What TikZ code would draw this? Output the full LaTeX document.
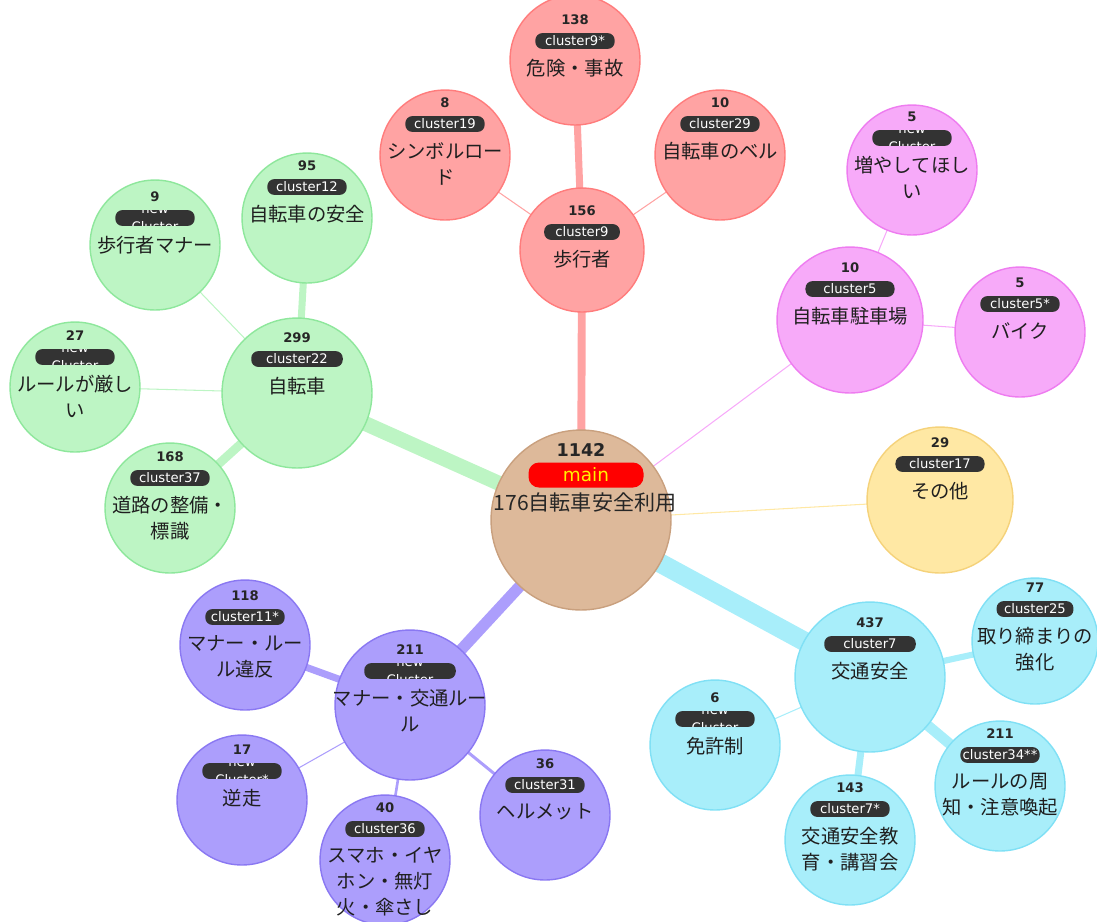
\documentclass[tikz,border=0pt]{standalone}
\usepackage{fontspec}
\setmainfont{DejaVu Sans}
\newfontfamily\jp{Noto Sans CJK JP}
\usetikzlibrary{calc,backgrounds}

\definecolor{redfill}{HTML}{FFA3A3}
\definecolor{redline}{HTML}{FF7C7C}
\definecolor{pinkfill}{HTML}{F7AAF9}
\definecolor{pinkline}{HTML}{EE7CF0}
\definecolor{yellowfill}{HTML}{FFE8A4}
\definecolor{yellowline}{HTML}{F5D27A}
\definecolor{cyanfill}{HTML}{A8EEFA}
\definecolor{cyanline}{HTML}{80E0F5}
\definecolor{purplefill}{HTML}{AC9EFC}
\definecolor{purpleline}{HTML}{8A78F2}
\definecolor{greenfill}{HTML}{BDF5C4}
\definecolor{greenline}{HTML}{8EE79C}
\definecolor{mainfill}{HTML}{DDB99A}
\definecolor{mainline}{HTML}{C9A07E}
\definecolor{tagfill}{HTML}{333333}

\tikzset{
  bub/.style={circle, inner sep=0pt, line width=0.8pt},
  redc/.style={fill=redfill, draw=redline},
  pinkc/.style={fill=pinkfill, draw=pinkline},
  yellowc/.style={fill=yellowfill, draw=yellowline},
  cyanc/.style={fill=cyanfill, draw=cyanline},
  purplec/.style={fill=purplefill, draw=purpleline},
  greenc/.style={fill=greenfill, draw=greenline},
  cnt/.style={font=\fontsize{7.5}{9}\selectfont\bfseries, text=black!85, inner sep=0pt},
  tag/.style={rectangle, rounded corners=4pt, fill=tagfill, text=white,
    font=\fontsize{7.5}{9}\selectfont, inner sep=0pt, minimum height=9pt},
  newtag/.style={tag, path picture={
    \node[text=white, font=\fontsize{7.5}{9}\selectfont, inner sep=0pt]
      at ([yshift=4.6pt]path picture bounding box.center) {new};
    \node[text=white, font=\fontsize{7.5}{9}\selectfont, inner sep=0pt]
      at ([yshift=-5pt]path picture bounding box.center) {Cluster#1};}},
  newtag/.default={},
  lbl/.style={font=\jp\fontsize{11}{14.7}\selectfont, text=black!88, align=center,
    inner sep=0pt, anchor=north},
  link/.style={line cap=butt},
}

% name, centre, radius, colour, count, tag style, tag text, label, count offset
\newcommand{\bubble}[9]{%
  \node[bub, #4, minimum size={#3*0.04cm}] (#1) at (#2) {};
  \node[cnt] (#1n) at ($(#1)+(0,#9)$) {#5};
  \node[#6, minimum width={#3*1.22*0.02cm}] (#1t) at ($(#1n)+(0,21)$) {#7};
  \node[lbl] (#1l) at ($(#1t)+(0,18)$) {#8};
}

\begin{document}
\begin{tikzpicture}[x=0.02cm,y=-0.02cm]
\useasboundingbox (0,0) rectangle (1097,921);

% centre
\node[bub, fill=mainfill, draw=mainline, minimum size={90*0.04cm}] (main) at (581,520) {};
\node[cnt, font=\fontsize{10}{12}\selectfont\bfseries] (mainn) at (581,450) {1142};
\node[tag, fill=red, text=yellow, rounded corners=6pt, minimum width={115*0.02cm},
  minimum height={25*0.02cm}, font=\fontsize{10.5}{12}\selectfont] (maint) at (586,475) {main};
\node[lbl, font=\jp\fontsize{12}{15}\selectfont, text=black!85, anchor=center] (mainl) at (585,503) {176自転車安全利用};

% red group
\bubble{c9}{582,250}{62}{redc}{156}{tag}{cluster9}{歩行者}{-39}
\bubble{c9s}{575,60}{65}{redc}{138}{tag}{cluster9*}{危険・事故}{-40}
\bubble{c19}{445,155}{65}{redc}{8}{tag}{cluster19}{シンボルロー\\ド}{-52}
\bubble{c29}{720,155}{65}{redc}{10}{tag}{cluster29}{自転車のベル}{-52}

% pink group
\bubble{c5}{850,320}{73}{pinkc}{10}{tag}{cluster5}{自転車駐車場}{-52}
\bubble{nc1}{912,170}{65}{pinkc}{5}{newtag}{}{増やしてほし\\い}{-53}
\bubble{c5s}{1020,332}{65}{pinkc}{5}{tag}{cluster5*}{バイク}{-49}

% yellow
\bubble{c17}{940,500}{73}{yellowc}{29}{tag}{cluster17}{その他}{-57}

% cyan group
\bubble{c7}{870,677}{75}{cyanc}{437}{tag}{cluster7}{交通安全}{-54}
\bubble{c25}{1035,641}{63}{cyanc}{77}{tag}{cluster25}{取り締まりの\\強化}{-53}
\bubble{nc2}{715,745}{65}{cyanc}{6}{newtag}{}{免許制}{-47}
\bubble{c7s}{850,840}{65}{cyanc}{143}{tag}{cluster7*}{交通安全教\\育・講習会}{-52}
\bubble{c34}{1000,786}{65}{cyanc}{211}{tag}{cluster34**}{ルールの周\\知・注意喚起}{-52}

% purple group
\bubble{nc3}{410,705}{75}{purplec}{211}{newtag}{}{マナー・交通ルー\\ル}{-55}
\bubble{c11}{245,645}{65}{purplec}{118}{tag}{cluster11*}{マナー・ルー\\ル違反}{-49}
\bubble{nc4}{242,800}{65}{purplec}{17}{newtag=*}{}{逆走}{-50}
\bubble{c36}{385,860}{65}{purplec}{40}{tag}{cluster36}{スマホ・イヤ\\ホン・無灯\\火・傘さし}{-52}
\bubble{c31}{545,815}{65}{purplec}{36}{tag}{cluster31}{ヘルメット}{-51}

% green group
\bubble{c22}{297,393}{75}{greenc}{299}{tag}{cluster22}{自転車}{-55}
\bubble{c12}{307,218}{65}{greenc}{95}{tag}{cluster12}{自転車の安全}{-52}
\bubble{nc5}{155,245}{65}{greenc}{9}{newtag}{}{歩行者マナー}{-48}
\bubble{nc6}{75,387}{65}{greenc}{27}{newtag}{}{ルールが厳し\\い}{-51}
\bubble{c37}{170,508}{65}{greenc}{168}{tag}{cluster37}{道路の整備・\\標識}{-51}

% links under the bubbles
\begin{pgfonlayer}{background}
\draw[link, cyanfill, line width=11pt] (main.center) -- (c7.center);
\draw[link, greenfill, line width=8.5pt] (main.center) -- (c22.center);
\draw[link, purplefill, line width=6.5pt] (main.center) -- (nc3.center);
\draw[link, redfill, line width=4.5pt] (main.center) -- (c9.center);
\draw[link, pinkfill, line width=0.6pt] (main.center) -- (c5.center);
\draw[link, yellowfill, line width=0.6pt] (main.center) -- (c17.center);

\draw[link, redfill, line width=4pt] (c9.center) -- (c9s.center);
\draw[link, redfill, line width=0.6pt] (c9.center) -- (c19.center);
\draw[link, redfill, line width=0.6pt] (c9.center) -- (c29.center);

\draw[link, pinkfill, line width=0.6pt] (c5.center) -- (nc1.center);
\draw[link, pinkfill, line width=0.6pt] (c5.center) -- (c5s.center);

\draw[link, cyanfill, line width=3.5pt] (c7.center) -- (c25.center);
\draw[link, cyanfill, line width=0.6pt] (c7.center) -- (nc2.center);
\draw[link, cyanfill, line width=4pt] (c7.center) -- (c7s.center);
\draw[link, cyanfill, line width=6pt] (c7.center) -- (c34.center);

\draw[link, purplefill, line width=4pt] (nc3.center) -- (c11.center);
\draw[link, purplefill, line width=0.6pt] (nc3.center) -- (nc4.center);
\draw[link, purplefill, line width=1.5pt] (nc3.center) -- (c36.center);
\draw[link, purplefill, line width=1.7pt] (nc3.center) -- (c31.center);

\draw[link, greenfill, line width=4pt] (c22.center) -- (c12.center);
\draw[link, greenfill, line width=0.6pt] (c22.center) -- (nc5.center);
\draw[link, greenfill, line width=0.6pt] (c22.center) -- (nc6.center);
\draw[link, greenfill, line width=5pt] (c22.center) -- (c37.center);
\end{pgfonlayer}
\end{tikzpicture}
\end{document}
